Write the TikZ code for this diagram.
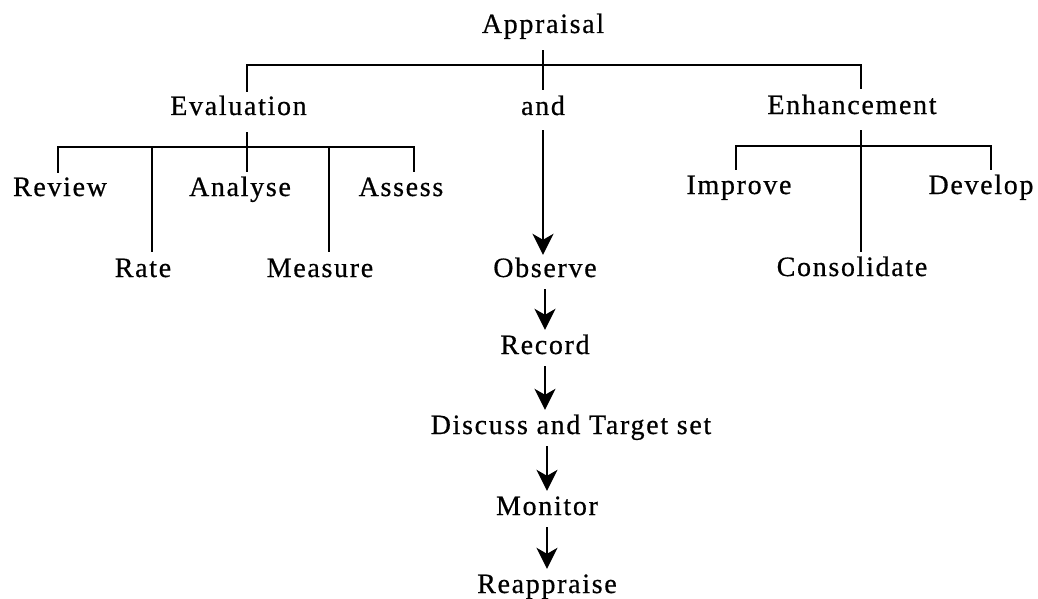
\documentclass[tikz,border=0pt]{standalone}
\usepackage{fontspec}
\setmainfont{Liberation Serif}[LetterSpace=6,FakeBold=0.6]
\usetikzlibrary{arrows.meta}
\begin{document}
\begin{tikzpicture}[x=1pt,y=-1pt,
   lbl/.style={inner sep=0pt,anchor=base,text height=18pt,text depth=0pt,font=\fontsize{28}{32}\selectfont},
   link/.style={line width=1.8pt},
   flow/.style={line width=1.8pt,shorten <=12pt,shorten >=6pt,-{Stealth[length=21pt,width=21pt,inset=6pt]}}]
   \useasboundingbox (0,0) rectangle (1038,599);
   \node [lbl] (appraisal) at (543,33) {Appraisal};
   \node [lbl] (evaluation) at (238.5,115) {Evaluation};
   \node [lbl] (andword) at (543,115) {and};
   \node [lbl] (enhancement) at (852,114) {Enhancement};
   \node [lbl] (review) at (60,196) {Review};
   \node [lbl] (analyse) at (240,196) {Analyse};
   \node [lbl] (assess) at (401,196) {Assess};
   \node [lbl] (improve) at (739,194) {Improve};
   \node [lbl] (develop) at (981,194) {Develop};
   \node [lbl] (rate) at (143,277) {Rate};
   \node [lbl] (measure) at (320,277) {Measure};
   \node [lbl] (observe) at (545,277) {Observe};
   \node [lbl] (consolidate) at (852,276) {Consolidate};
   \node [lbl] (record) at (545,354) {Record};
   \node [lbl] (discuss) at (571,434) {Discuss and Target set};
   \node [lbl] (monitor) at (547,515) {Monitor};
   \node [lbl] (reappraise) at (547,593) {Reappraise};
   \coordinate (topl) at (247,65);
   \coordinate (topr) at (861,65);
   \coordinate (evl) at (58,147);
   \coordinate (evrate) at (152,147);
   \coordinate (evmid) at (247,147);
   \coordinate (evmeas) at (329,147);
   \coordinate (evr) at (414,147);
   \coordinate (enl) at (736,146);
   \coordinate (enr) at (991,146);
   \draw [link,shorten <=17pt,shorten >=7pt] (appraisal.south) -- (andword.north);
   \draw [link,shorten <=5pt,shorten >=7pt] (topl |- evaluation.north) -- (topl) -- (topr) -- (topr |- enhancement.north);
   \draw [link,shorten <=17pt,shorten >=6pt] (evaluation.south -| evmid) -- (analyse.north -| evmid);
   \draw [link,shorten <=5pt,shorten >=6pt] (evl |- review.north) -- (evl) -- (evr) -- (evr |- assess.north);
   \draw [link,shorten >=7pt] (evrate) -- (evrate |- rate.north);
   \draw [link,shorten >=7pt] (evmeas) -- (evmeas |- measure.north);
   \draw [link,shorten <=16pt,shorten >=6pt] (enhancement.south -| topr) -- (consolidate.north -| topr);
   \draw [link,shorten <=6pt,shorten >=6pt] (enl |- improve.north) -- (enl) -- (enr) -- (enr |- develop.north);
   \draw [flow,shorten <=15pt,shorten >=4pt] (andword.south) -- (andword.south |- observe.north);
   \draw [flow] (observe.south) -- (observe.south |- record.north);
   \draw [flow] (record.south) -- (record.south |- discuss.north);
   \draw [flow] (monitor.north |- discuss.south) -- (monitor.north);
   \draw [flow] (monitor.south) -- (reappraise.north);
\end{tikzpicture}
\end{document}
